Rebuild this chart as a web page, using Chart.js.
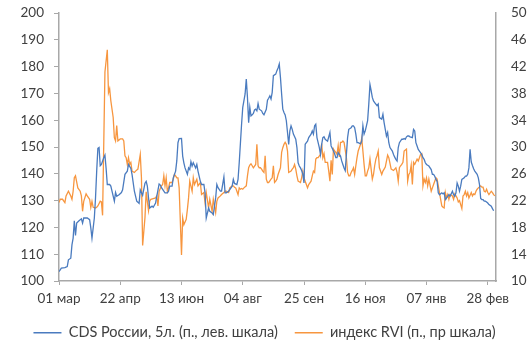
<!DOCTYPE html>
<html><head><meta charset="utf-8">
<script src="https://cdn.jsdelivr.net/npm/chart.js@4.4.1/dist/chart.umd.min.js"></script>
<style>html,body{margin:0;padding:0;background:#fff}#wrap{width:529px;height:342px;position:relative}</style>
</head><body><div id="wrap"><canvas id="c" width="529" height="342"></canvas></div>
<script>
// Day offsets from 01 мар
const cdsDays = [0,2,5,7,8,10,11,12,13,14,15,17,19,20,21,24,26,27,28,30,31,32,33,34,35,36,38,39,40,41,43,44,45,47,48,49,51,53,54,56,58,59,61,62,64,66,68,69,71,73,74,75,76,77,79,80,82,83,85,86,87,89,90,92,93,94,96,97,99,100,101,102,104,105,106,107,109,110,111,112,113,114,116,117,118,120,121,123,124,125,127,128,130,131,133,134,135,137,138,140,141,142,144,145,147,148,149,151,152,153,155,156,158,159,160,161,162,163,164,165,166,167,168,169,170,172,173,174,176,177,178,179,180,181,182,184,185,186,187,188,189,190,191,192,193,194,195,196,197,198,199,201,202,203,204,205,206,207,208,209,210,211,212,214,215,216,217,218,219,220,221,222,223,224,225,226,227,228,230,231,232,233,234,235,236,237,239,240,241,242,243,244,245,246,248,249,250,251,252,253,254,256,257,258,259,260,261,262,263,264,265,266,267,268,269,270,271,272,274,275,276,277,278,279,280,281,283,284,285,286,287,288,289,291,292,293,294,295,296,297,298,300,301,302,303,304,305,306,308,309,310,311,312,313,314,316,317,318,319,320,321,322,323,325,326,327,328,329,330,331,332,334,335,336,337,338,339,340,341,342,344,345,346,347,348,349,350,351,352,353,355,356,357,358,359,360,361,362,363,364,365,367,368,369];
const cdsValues = [103.5,104.8,105.0,105.4,107.9,108.5,113.5,116.0,122.5,117.0,121.6,122.5,123.2,121.6,123.5,123.5,122.9,119.8,116.0,123.5,131.0,141.0,149.5,149.8,143.0,143.5,146.0,147.0,142.0,136.0,136.0,135.4,133.5,129.8,133.0,131.6,132.2,133.0,134.0,139.8,141.0,143.5,142.0,139.8,133.5,129.8,129.0,134.0,132.0,136.5,137.2,135.4,131.0,127.2,127.9,127.5,129.1,131.6,136.2,135.8,134.8,133.5,132.9,132.9,133.5,135.4,135.4,138.5,141.0,144.8,151.6,153.1,153.2,146.6,144.1,142.2,139.8,142.2,141.6,144.5,142.9,144.1,142.2,143.5,141.0,137.2,136.0,136.0,132.9,123.5,127.2,126.0,125.4,124.8,131.0,136.0,134.8,133.5,133.5,138.8,132.9,132.9,133.5,134.1,135.4,137.9,136.4,136.0,137.9,144.1,158.5,164.8,169.8,175.4,168.5,159.1,164.8,161.6,162.0,162.5,163.8,164.1,163.5,166.2,164.1,163.5,162.5,162.0,164.1,167.5,168.2,169.1,167.9,170.4,176.6,177.2,178.5,179.5,181.0,176.0,169.8,164.1,162.9,162.0,159.8,155.4,151.0,156.0,157.9,156.6,154.8,152.9,149.8,144.1,142.9,142.2,141.2,139.8,136.6,151.0,151.6,152.2,153.5,154.8,156.0,154.8,157.9,158.5,153.5,151.6,149.8,147.2,151.0,153.5,153.8,152.9,152.5,152.2,155.4,150.4,149.5,148.5,147.5,146.0,146.0,147.9,146.6,144.8,143.5,142.2,141.2,147.2,153.5,156.6,157.2,157.9,157.9,157.2,154.8,151.6,151.6,151.2,152.2,157.9,154.8,156.0,157.9,159.8,166.0,173.3,171.0,168.5,167.2,166.6,166.0,165.4,166.0,161.0,160.4,162.2,159.1,156.6,154.1,155.4,151.6,149.8,148.5,147.2,146.2,145.4,144.8,149.8,151.6,152.9,152.9,153.2,152.9,153.8,154.1,154.1,153.8,153.5,156.6,156.0,151.6,150.4,149.1,148.5,147.2,146.0,145.4,144.1,143.5,143.2,142.9,141.6,139.8,139.8,139.1,137.9,137.2,132.9,132.2,132.9,132.5,132.9,130.4,131.0,131.6,132.2,131.6,133.5,132.2,131.6,132.9,136.6,135.4,133.5,135.4,137.9,138.5,139.1,139.1,139.8,142.2,149.1,144.4,143.1,141.9,141.0,139.8,138.5,136.0,130.8,130.4,130.4,129.8,129.8,129.5,129.1,128.5,127.9,127.0,126.2];
const rviDays = [0,1,3,5,6,8,10,11,12,13,14,16,18,19,20,21,23,24,26,27,28,29,31,32,33,35,36,37,39,41,42,43,44,46,47,48,49,50,52,54,55,56,57,58,59,60,61,62,64,65,67,69,70,71,73,74,76,77,78,80,82,83,84,85,87,88,89,90,91,92,93,94,96,97,98,99,100,101,102,104,105,106,108,109,110,111,113,114,115,117,118,120,121,123,124,125,127,128,130,131,133,134,135,137,138,140,141,142,144,145,147,148,149,150,152,153,154,155,156,157,159,160,161,162,163,164,165,167,168,169,170,171,172,173,174,175,176,177,178,180,181,182,183,184,185,186,188,189,190,191,192,193,194,195,197,198,199,200,201,202,203,205,206,207,208,209,210,211,212,214,215,216,217,218,219,220,222,223,224,225,226,227,228,229,230,231,232,233,234,235,236,237,238,239,240,241,242,244,245,246,247,248,249,250,251,252,253,254,256,257,258,259,260,261,262,263,264,266,267,268,269,270,271,272,274,275,276,277,278,279,280,282,284,285,286,287,288,289,290,291,292,293,295,296,297,298,299,300,301,302,304,305,306,307,308,309,310,311,312,313,314,316,317,318,319,320,321,322,323,325,326,327,328,329,330,331,332,334,335,336,337,338,339,340,342,343,344,345,346,347,348,350,351,352,353,354,355,356,358,359,360,361,362,363,364,365,367,368,369,370];
const rviValues = [21.7,22.2,22.2,21.7,22.7,23.4,22.7,22.2,23.4,25.4,25.7,23.9,23.4,22.7,20.4,21.9,23.0,22.7,22.2,21.0,21.9,21.0,20.9,21.0,21.2,21.9,21.8,19.8,41.2,44.5,38.1,38.7,36.9,34.4,31.4,30.9,33.2,30.9,31.2,31.2,30.9,28.7,28.4,27.4,28.4,27.4,27.7,26.4,26.2,26.4,26.7,28.9,25.4,15.3,19.5,23.3,20.5,21.9,22.2,22.3,22.4,22.7,21.2,23.4,24.2,24.4,25.7,24.2,25.4,23.4,23.9,24.7,24.7,25.2,25.9,25.7,25.4,25.4,23.9,13.9,19.4,18.4,19.2,20.7,22.4,24.9,23.4,25.4,24.4,25.2,24.2,24.7,22.9,23.2,21.7,23.2,20.9,22.2,20.4,22.2,20.2,21.9,22.4,22.7,22.9,23.2,23.4,23.4,23.2,23.9,24.2,24.2,24.0,23.9,22.9,23.9,23.7,23.8,23.7,23.9,24.2,25.7,26.9,27.3,27.5,27.2,26.9,27.4,30.4,27.2,26.9,26.9,26.7,26.4,26.2,28.7,25.2,24.7,24.7,25.2,25.4,27.2,24.7,24.9,25.2,25.9,26.9,29.2,29.9,30.4,30.7,30.4,29.4,26.2,26.4,26.7,26.9,27.4,26.7,25.7,24.9,24.7,25.4,26.4,25.4,24.9,24.4,23.9,24.4,24.9,25.7,26.4,26.2,28.2,28.4,28.4,28.9,30.5,28.4,29.0,27.7,27.7,27.7,26.4,24.9,28.0,25.9,29.7,29.4,29.2,28.9,30.2,28.5,30.7,30.7,30.9,30.7,28.4,26.2,25.7,25.7,26.2,26.5,26.9,25.9,27.2,28.4,29.4,30.4,31.3,29.4,27.4,25.7,25.7,26.4,26.9,28.2,25.2,25.9,27.2,28.2,28.7,29.4,26.9,25.9,26.4,26.7,27.0,27.9,28.8,28.4,26.7,26.5,26.7,26.9,26.2,24.9,26.9,27.2,27.4,27.7,29.4,29.7,24.9,25.9,26.2,27.3,24.4,27.7,27.4,28.2,27.9,28.4,28.9,29.0,24.2,25.2,24.7,25.4,24.2,25.2,23.4,23.9,24.4,24.9,25.4,25.2,24.2,23.2,21.2,21.0,20.9,23.2,22.4,22.9,22.2,22.9,22.7,22.2,23.0,22.7,22.4,21.8,22.0,20.8,22.7,22.9,23.4,22.7,23.2,22.4,23.2,22.7,23.0,22.9,23.4,23.7,23.9,24.2,24.0,24.0,23.4,23.3,23.7,23.2,22.9,23.4,23.2,22.9,22.7];
const xTickDays = [0,52,104,156,208,260,312,364];
const xTickLabels = ['01 мар','22 апр','13 июн','04 авг','25 сен','16 ноя','07 янв','28 фев'];
const leftTicks = [100,110,120,130,140,150,160,170,180,190,200];
const rightTicks = [10,14,18,22,26,30,34,38,42,46,50];
const seriesNames = ['CDS России, 5л. (п., лев. шкала)','индекс RVI (п., пр шкала)'];

const BLUE = '#4a7bbf', ORANGE = '#f7963f', AXIS = '#a8a8a8', TXT = '#404040';
const FONT = {family: 'Lato, "Open Sans", sans-serif', size: 13.5};
const LFONT = {family: 'Lato, "Open Sans", sans-serif', size: 14.5};

new Chart(document.getElementById('c'), {
  type: 'line',
  data: {
    datasets: [
      {label: seriesNames[0], data: cdsDays.map((d,i)=>({x:d,y:cdsValues[i]})), yAxisID: 'yL',
       borderColor: BLUE, backgroundColor: BLUE, borderWidth: 1.3, pointRadius: 0, tension: 0},
      {label: seriesNames[1], data: rviDays.map((d,i)=>({x:d,y:rviValues[i]})), yAxisID: 'yR',
       borderColor: ORANGE, backgroundColor: ORANGE, borderWidth: 1.3, pointRadius: 0, tension: 0}
    ]
  },
  options: {
    responsive: false, animation: false, devicePixelRatio: 1,
    layout: {padding: {left: 0, right: 0, top: 13, bottom: -8}},
    plugins: {
      tooltip: {enabled: false},
      legend: {
        position: 'bottom',
        labels: {font: LFONT, color: TXT, boxWidth: 28, boxHeight: 1.5, padding: 17,
          generateLabels: (chart) => chart.data.datasets.map((ds, i) => ({
            text: ds.label, fillStyle: ds.borderColor, strokeStyle: ds.borderColor,
            lineWidth: 0, hidden: false, datasetIndex: i, fontColor: TXT}))
        }
      }
    },
    scales: {
      x: {
        type: 'linear', min: 0, max: 371,
        afterBuildTicks: (s) => { s.ticks = xTickDays.map(v => ({value: v})); },
        afterFit: (s) => { s.height = 27.5; s.paddingLeft = 0; s.paddingRight = 0; },
        ticks: {autoSkip: false, maxRotation: 0, font: FONT, color: TXT, padding: 6,
          callback: (v) => xTickLabels[xTickDays.indexOf(v)]},
        grid: {display: true, drawOnChartArea: false, drawTicks: true, tickLength: 4, color: AXIS},
        border: {display: true, color: AXIS, width: 1.5}
      },
      yL: {
        type: 'linear', position: 'left', min: 100, max: 200,
        afterBuildTicks: (s) => { s.ticks = leftTicks.map(v => ({value: v})); },
        afterFit: (s) => { s.width = 59; s.paddingTop = 0; s.paddingBottom = 0; },
        ticks: {font: FONT, color: TXT, padding: 10},
        grid: {display: true, drawOnChartArea: false, drawTicks: true, tickLength: 5, color: AXIS},
        border: {display: true, color: AXIS, width: 1.5}
      },
      yR: {
        type: 'linear', position: 'right', min: 10, max: 50,
        afterBuildTicks: (s) => { s.ticks = rightTicks.map(v => ({value: v})); },
        afterFit: (s) => { s.width = 33; s.paddingTop = 0; s.paddingBottom = 0; },
        ticks: {font: FONT, color: TXT, padding: 15},
        grid: {display: true, drawOnChartArea: false, drawTicks: false, color: AXIS},
        border: {display: true, color: AXIS, width: 1.5}
      }
    }
  }
});
</script>
</body></html>
